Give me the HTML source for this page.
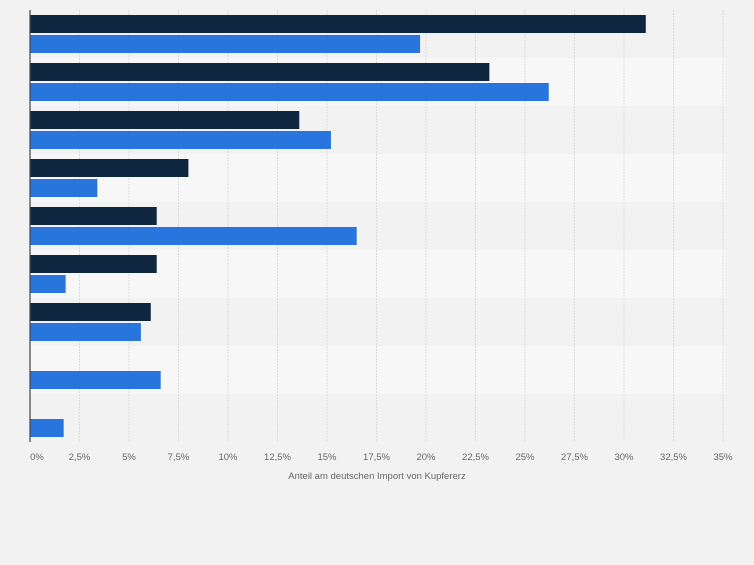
<!DOCTYPE html>
<html><head><meta charset="utf-8"><style>
body{margin:0;background:#f2f2f2;font-family:"Liberation Sans",sans-serif}
</style></head><body>
<svg id="c" width="754" height="560" xmlns="http://www.w3.org/2000/svg"></svg>
<script>
const categories=["A","B","C","D","E","F","G","H","I"];
const series2020=[31.1,23.2,13.6,8.0,6.4,6.4,6.1,null,null];
const series2021=[19.7,26.2,15.2,3.4,16.5,1.8,5.6,6.6,1.7];
const ticks=[0,2.5,5,7.5,10,12.5,15,17.5,20,22.5,25,27.5,30,32.5,35];
const tickLabels=["0%","2,5%","5%","7,5%","10%","12,5%","15%","17,5%","20%","22,5%","25%","27,5%","30%","32,5%","35%"];
const svg=document.getElementById('c');const NS="http://www.w3.org/2000/svg";
const x0=30,pxPer=19.8,topY=10,band=48;
const X=v=>x0+v*pxPer;
function mk(t,a){const e=document.createElementNS(NS,t);for(const k in a)e.setAttribute(k,a[k]);svg.appendChild(e);return e;}
categories.forEach((c,i)=>{const r=mk('rect',{x:x0,y:topY+i*band,width:X(35)-x0+2,height:band,fill:i%2?'#f7f7f7':'#f2f2f2'});

});
ticks.forEach((t,i)=>{if(i>0){const g=mk('line',{x1:X(t),x2:X(t),y1:topY,y2:442,stroke:'#dcdcdc','stroke-dasharray':'2,1'});

}
const l=mk('text',{x:X(t)+(i==0?7:0),y:460,'text-anchor':'middle','font-size':'9.5',fill:'#666'});l.textContent=tickLabels[i];

});
categories.forEach((c,i)=>{const y=topY+i*band;
if(series2020[i]!=null){const b=mk('rect',{x:x0,y:y+5,width:X(series2020[i])-x0,height:18,fill:'#0f2640'});

}
if(series2021[i]!=null){const b=mk('rect',{x:x0,y:y+25,width:X(series2021[i])-x0,height:18,fill:'#2876dd'});

}});
const ax=mk('line',{x1:x0,x2:x0,y1:topY,y2:442,stroke:'#444','stroke-width':1.2});


const tt=mk('text',{x:377,y:479,'text-anchor':'middle','font-size':'9.5',fill:'#666'});tt.textContent="Anteil am deutschen Import von Kupfererz";


</script>
</body></html>
